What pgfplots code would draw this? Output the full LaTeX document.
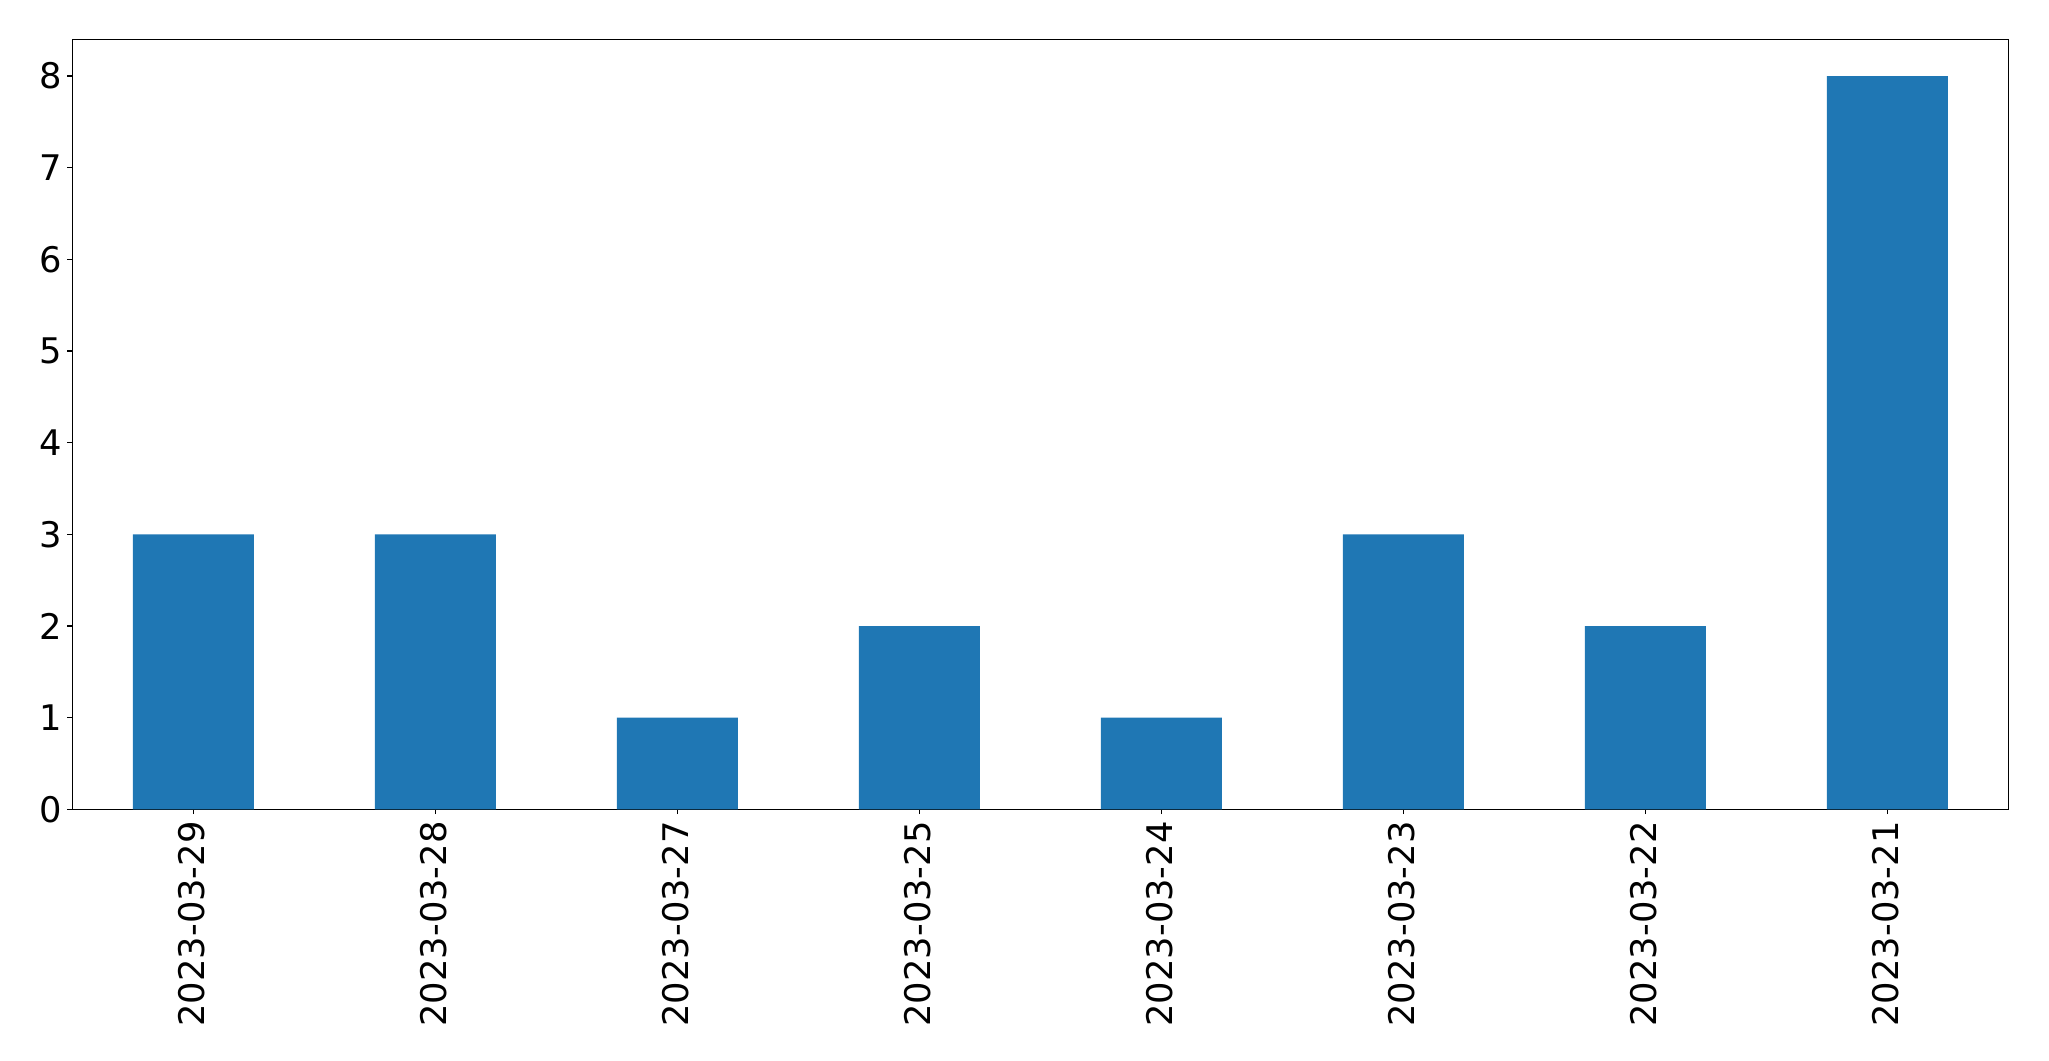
\documentclass[border=0pt]{standalone}
\usepackage{fontspec}
\setmainfont{DejaVu Sans}
\usepackage{pgfplots}
\pgfplotsset{compat=1.18}
\definecolor{mplblue}{HTML}{1F77B4}
\begin{document}
\begin{tikzpicture}
\path[use as bounding box] (-52.1bp,-181.2bp) rectangle ++(1475.28bp,763.92bp);
\begin{axis}[
  at={(0,0)}, anchor=south west,
  scale only axis,
  width=1393.9bp, height=554.4bp,
  xmin=-0.5, xmax=7.5, ymin=0, ymax=8.4,
  xtick={0,1,2,3,4,5,6,7},
  xticklabels={2023-03-29,2023-03-28,2023-03-27,2023-03-25,2023-03-24,2023-03-23,2023-03-22,2023-03-21},
  ytick={0,1,2,3,4,5,6,7,8},
  tick align=outside,
  major tick length=3.5bp,
  xtick pos=bottom, ytick pos=left,
  axis line style={line width=0.8bp, black},
  every tick/.style={line width=0.8bp, black},
  /pgf/number format/assume math mode=true,
  tick label style={font=\fontsize{25.5}{30}\selectfont, inner sep=0pt},
  yticklabel style={anchor=east, xshift=-3.5bp},
  xticklabel style={rotate=90, anchor=east, xshift=-5bp, yshift=1.2bp},
]
\addplot[ybar, bar width=0.5, fill=mplblue, draw=none, bar shift=0pt] coordinates {
(0,3) (1,3) (2,1) (3,2) (4,1) (5,3) (6,2) (7,8)
};
\end{axis}
\end{tikzpicture}
\end{document}
